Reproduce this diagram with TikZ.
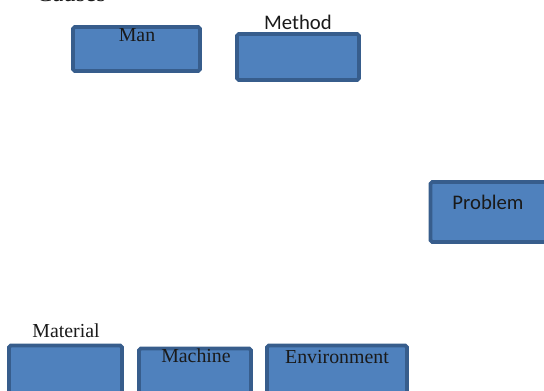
\documentclass[tikz,border=0pt]{standalone}
\usepackage{fontspec}
\setmainfont{Liberation Serif}
\newfontfamily\calibri{Carlito}
\usepackage{xcolor}
\definecolor{boxfill}{HTML}{4F81BD}
\definecolor{boxline}{HTML}{375D8C}
\definecolor{inkgrey}{HTML}{1A1A1A}

\begin{document}
\begin{tikzpicture}[x=0.02cm,y=-0.02cm,
    causebox/.style={draw=boxline,fill=boxfill,line width=2.1pt,rounded corners=1pt,inner sep=0pt},
    serif/.style={font=\fontsize{11.3}{13}\selectfont,text=inkgrey,inner sep=0pt},
    sans/.style={font=\calibri\fontsize{11.8}{14}\selectfont,text=inkgrey,inner sep=0pt}]
  \useasboundingbox (0,0) rectangle (544,390);
  % boxes
  \node[causebox,minimum width=2.54cm,minimum height=0.88cm] (man) at (136.5,49) {};
  \node[causebox,minimum width=2.44cm,minimum height=0.92cm] (method) at (298,57) {};
  \node[causebox,minimum width=2.56cm,minimum height=1.20cm] (problem) at (494.5,212) {};
  \node[causebox,minimum width=2.26cm,minimum height=1.06cm] (material) at (65.5,372) {};
  \node[causebox,minimum width=2.24cm,minimum height=1.00cm] (machine) at (195,373.5) {};
  \node[causebox,minimum width=2.80cm,minimum height=1.06cm] (environment) at (337,372) {};
  % texts
  \node[serif,font=\fontsize{14}{16}\selectfont,anchor=base] (causes) at (71,1.5) {Causes};
  \node[serif] (mantext) at (137,35) {Man};
  \node[sans] (methodtext) at (298,22) {Method};
  \node[sans] (problemtext) at (488,202) {Problem};
  \node[serif] (materialtext) at (66,331) {Material};
  \node[serif] (machinetext) at (196,356) {Machine};
  \node[serif] (environmenttext) at (337,357) {Environment};
\end{tikzpicture}
\end{document}
